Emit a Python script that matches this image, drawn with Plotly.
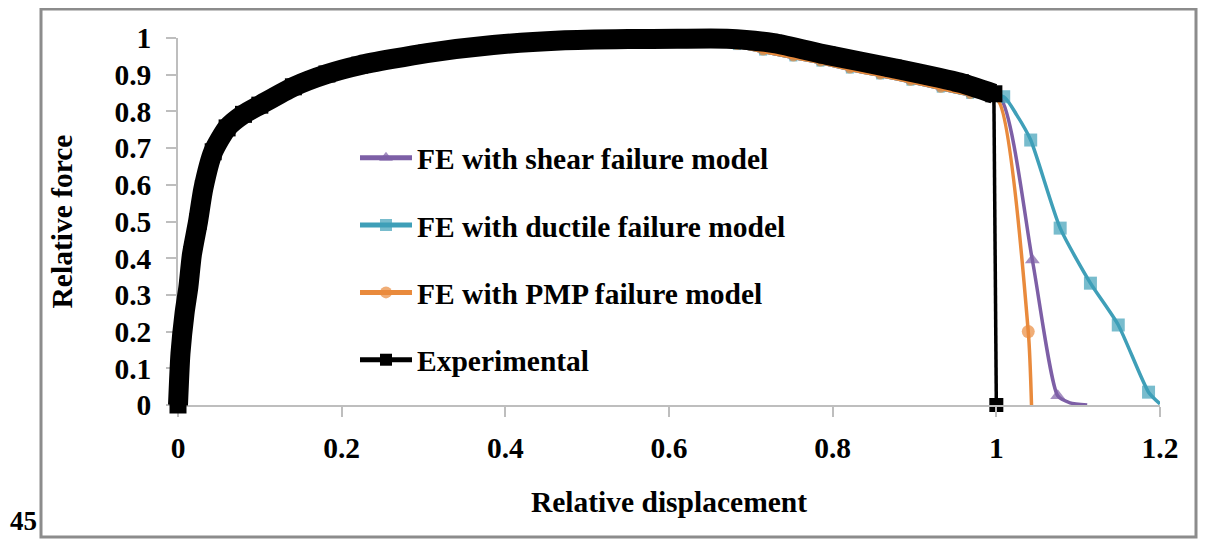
import plotly.graph_objects as go

# ---------------- data ----------------
exp_x = [0.0, 0.003, 0.008, 0.0126, 0.017, 0.0245, 0.031, 0.043, 0.060, 0.080,
         0.100, 0.141, 0.182, 0.222, 0.304, 0.385, 0.467, 0.550, 0.610, 0.671,
         0.728, 0.793, 0.874, 0.956, 0.997]
exp_y = [0.0, 0.14, 0.25, 0.32, 0.41, 0.50, 0.59, 0.69, 0.755, 0.792,
         0.817, 0.867, 0.902, 0.926, 0.959, 0.981, 0.993, 0.997, 0.998, 0.998,
         0.986, 0.954, 0.918, 0.878, 0.848]
exp_drop_x = [0.997, 1.0]
exp_drop_y = [0.848, 0.0]

fe_pre_x = [0.0, 0.004, 0.009, 0.014, 0.019, 0.026, 0.034, 0.046, 0.063, 0.100,
            0.140, 0.180, 0.220, 0.300, 0.380, 0.460, 0.540, 0.620, 0.660, 0.683,
            0.715, 0.752, 0.785, 0.821, 0.858, 0.895, 0.932, 0.968]
fe_pre_y = [0.0, 0.16, 0.28, 0.37, 0.45, 0.54, 0.62, 0.70, 0.765, 0.822,
            0.870, 0.905, 0.929, 0.962, 0.984, 0.996, 1.001, 1.001, 0.993, 0.978,
            0.963, 0.947, 0.933, 0.914, 0.898, 0.881, 0.862, 0.845]

shear_tail_x = [1.005, 1.044, 1.075, 1.090, 1.111]
shear_tail_y = [0.835, 0.395, 0.025, 0.006, 0.0]
ductile_tail_x = [1.009, 1.025, 1.042, 1.078, 1.115, 1.149, 1.186, 1.200]
ductile_tail_y = [0.840, 0.790, 0.722, 0.482, 0.332, 0.218, 0.035, 0.003]
pmp_tail_x = [1.002, 1.039, 1.043]
pmp_tail_y = [0.830, 0.200, 0.0]

x_ticks = [0, 0.2, 0.4, 0.6, 0.8, 1.0, 1.2]
x_tick_labels = ["0", "0.2", "0.4", "0.6", "0.8", "1", "1.2"]
y_ticks = [0, 0.1, 0.2, 0.3, 0.4, 0.5, 0.6, 0.7, 0.8, 0.9, 1.0]
y_tick_labels = ["0", "0.1", "0.2", "0.3", "0.4", "0.5", "0.6", "0.7", "0.8", "0.9", "1"]
x_range = [0, 1.2]
y_range = [0, 1]

names = ["FE with shear failure model", "FE with ductile failure model",
         "FE with PMP failure model", "Experimental"]

# ---------------- styles / layout geometry ----------------
PURPLE = "#7D5FA6"
TEAL = "#3F9FB8"
ORANGE = "#E98A3C"
BLACK = "#000000"
AXIS_GREY = "#BEBEBE"
FONT = "Liberation Serif"
FS = 29.5

W, H = 1207, 540
OFF = 8                      # page offset of the figure in the window
PAPER_L, PAPER_R, PAPER_T, PAPER_B = 140, 1180, 20, 420   # window px
PLOT_L, PLOT_R, PLOT_T, PLOT_B = 178, 1160, 38, 405       # window px of main axes

def px_x(wx):
    return (wx - PAPER_L) / (PAPER_R - PAPER_L)

def px_y(wy):
    return (PAPER_B - wy) / (PAPER_B - PAPER_T)

sx = (PLOT_R - PLOT_L) / (x_range[1] - x_range[0])
sy = (PLOT_B - PLOT_T) / (y_range[1] - y_range[0])
x2_range = [x_range[0] + (PAPER_L - PLOT_L) / sx, x_range[1] + (PAPER_R - PLOT_R) / sx]
y2_range = [y_range[0] - (PAPER_B - PLOT_B) / sy, y_range[1] + (PLOT_T - PAPER_T) / sy]

fig = go.Figure()

def fe_trace(tx, ty, name, color, symbol, tail_marked, grp, msize):
    xs = fe_pre_x + tx
    ys = fe_pre_y + ty
    sizes = [8] * len(fe_pre_x) + [msize if m else 0 for m in tail_marked]
    fig.add_trace(go.Scatter(
        x=xs, y=ys, name=name, mode="lines+markers", legendgroup=grp,
        line=dict(color=color, width=3.5, shape="spline", smoothing=0.6),
        marker=dict(color=color, symbol=symbol, size=sizes, line=dict(width=0)),
        cliponaxis=False,
    ))

fe_trace(shear_tail_x, shear_tail_y, names[0], PURPLE, "triangle-up",
         [True, True, True, False, False], "a", 13)
fe_trace(ductile_tail_x, ductile_tail_y, names[1], TEAL, "square",
         [True, False, True, True, True, True, True, False], "b", 13)
fe_trace(pmp_tail_x, pmp_tail_y, names[2], ORANGE, "circle",
         [False, True, False], "c", 13)

fig.add_trace(go.Scatter(
    x=exp_drop_x, y=exp_drop_y, name=names[3], mode="lines+markers", legendgroup="d",
    line=dict(color=BLACK, width=3.5),
    marker=dict(color=BLACK, symbol="square", size=14),
    cliponaxis=False,
))

# experimental: thick band of dense markers (on an invisible, same-scale overlay so it is not clipped)
fig.add_trace(go.Scatter(
    x=exp_x, y=exp_y, mode="lines+markers", showlegend=False, legendgroup="d",
    xaxis="x2", yaxis="y2",
    line=dict(color=BLACK, width=20, shape="spline", smoothing=0.6),
    marker=dict(color=BLACK, symbol="square", size=17),
    cliponaxis=False, hoverinfo="skip",
))

axis_common = dict(
    showgrid=False, zeroline=False, showline=True, linecolor=AXIS_GREY, linewidth=1.5,
    ticks="outside", ticklen=10, tickcolor=AXIS_GREY, tickwidth=1.5, automargin=False,
    tickfont=dict(family=FONT, size=FS, color="black", weight="bold"),
)

fig.update_layout(
    width=W, height=H,
    margin=dict(l=PAPER_L - OFF, r=W + OFF - PAPER_R, t=PAPER_T - OFF, b=H + OFF - PAPER_B,
                autoexpand=False),
    paper_bgcolor="white", plot_bgcolor="rgba(0,0,0,0)",
    font=dict(family=FONT, size=FS, color="black", weight="bold"),
    xaxis=dict(range=x_range, tickvals=x_ticks, ticktext=x_tick_labels,
               domain=[px_x(PLOT_L), px_x(PLOT_R)], anchor="y",
               ticklabelstandoff=6,
               title=dict(text="Relative displacement", standoff=28,
                          font=dict(family=FONT, size=FS, weight="bold")),
               **axis_common),
    yaxis=dict(range=y_range, tickvals=y_ticks, ticktext=y_tick_labels,
               domain=[px_y(PLOT_B), px_y(PLOT_T)], anchor="x",
               ticklabelstandoff=9,
               title=dict(text="Relative force", standoff=33,
                          font=dict(family=FONT, size=FS, weight="bold")),
               **axis_common),
    xaxis2=dict(range=x2_range, domain=[0, 1], anchor="y2", visible=False,
                fixedrange=True, automargin=False),
    yaxis2=dict(range=y2_range, domain=[0, 1], anchor="x2", visible=False,
                fixedrange=True, automargin=False),
    legend=dict(x=px_x(355), y=px_y(132), xanchor="left", yanchor="top",
                bgcolor="rgba(0,0,0,0)", tracegroupgap=26, itemwidth=52,
                itemsizing="constant",
                font=dict(family=FONT, size=FS, weight="bold"),
                traceorder="grouped"),
    showlegend=True,
)

# outer gray frame around the chart
fig.add_shape(type="rect", xref="paper", yref="paper",
              x0=px_x(41), x1=px_x(1196), y0=px_y(537), y1=px_y(9),
              line=dict(color="#8C8C8C", width=3), layer="below")

fig.add_annotation(text="45", xref="paper", yref="paper", x=px_x(23), y=px_y(521),
                   showarrow=False, xanchor="center", yanchor="middle",
                   font=dict(family=FONT, size=27, weight="bold", color="black"))

fig.write_html("out.html")
